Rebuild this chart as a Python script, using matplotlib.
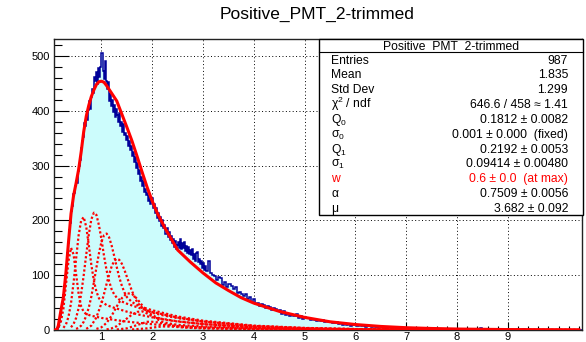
import numpy as np
import matplotlib
matplotlib.use('Agg')
import matplotlib.pyplot as plt
from matplotlib.patches import Rectangle
from matplotlib.lines import Line2D
from matplotlib.ticker import MultipleLocator

plt.rcParams['font.family'] = ['Liberation Sans', 'DejaVu Sans']
plt.rcParams['mathtext.fontset'] = 'custom'
plt.rcParams['mathtext.rm'] = 'Liberation Sans'
plt.rcParams['mathtext.it'] = 'Liberation Sans:italic'

title = "Positive_PMT_2-trimmed"

# ---------------- histogram ----------------
# fine bins (width 0.02) from 0.06 to 3.06
fine_start = 0.06
fine_width = 0.02
fine_counts = [
    0, 0, 0, 2, 6, 14, 26, 40, 50, 64, 80, 98, 118, 140, 158, 182, 196, 218, 226, 248,
    250, 262, 272, 268, 290, 300, 310, 332, 345, 352, 378, 372, 390, 384, 402, 418, 404, 425, 440, 432,
    462, 455, 470, 448, 478, 462, 480, 505, 472, 458, 490, 455, 440, 452, 418, 430, 408, 420, 398, 410,
    388, 404, 392, 380, 396, 372, 380, 362, 375, 355, 360, 346, 354, 336, 344, 328, 336, 318, 324, 306,
    315, 296, 304, 284, 292, 272, 280, 262, 272, 252, 258, 246, 250, 236, 244, 230, 236, 240, 222, 230,
    214, 222, 204, 214, 198, 206, 190, 200, 186, 192, 176, 186, 170, 178, 164, 172, 158, 166, 152, 162,
    148, 156, 160, 150, 166, 148, 158, 150, 160, 144, 154, 140, 152, 138, 146, 136, 148, 130, 138, 126,
    140, 142, 124, 130, 120, 126, 114, 122, 110, 116,
]
# coarse bins (width 0.04) from 3.06 to 7.06
coarse_start = 3.06
coarse_width = 0.04
coarse_counts = [
    108, 126, 104, 100, 98, 92, 96, 94, 82, 88, 78, 84, 80, 74, 78, 68, 70, 66, 62, 66,
    56, 60, 52, 56, 48, 50, 44, 48, 46, 40, 44, 42, 36, 40, 38, 34, 36, 30, 34, 28,
    30, 26, 28, 25, 30, 22, 26, 20, 24, 21, 22, 18, 20, 19, 17, 18, 16, 19, 15, 16,
    14, 15, 12, 13, 14, 11, 12, 10, 12, 9, 11, 8, 10, 9, 8, 10, 7, 8, 6, 7,
    8, 6, 7, 5, 6, 7, 5, 6, 4, 5, 6, 4, 5, 3, 4, 2, 0, 2, 0, 0,
]
hist_end = 10.46
tail_x = [7.14, 7.26, 7.70, 8.10, 8.50, 8.58, 8.98, 9.30]
tail_counts = [3, 2, 1, 2, 3, 2, 2, 1]

# ---------------- total fit ----------------
fit_x = [0.07, 0.12, 0.15, 0.20, 0.25, 0.30, 0.35, 0.40, 0.45, 0.50, 0.55, 0.60, 0.65, 0.70, 0.75,
         0.80, 0.85, 0.90, 0.95, 1.00, 1.05, 1.10, 1.15, 1.20, 1.30, 1.40, 1.50, 1.60, 1.70, 1.80,
         1.90, 2.00, 2.10, 2.25, 2.50, 2.75, 3.00, 3.25, 3.50, 3.75, 4.00, 4.50, 5.00, 5.50, 6.00,
         6.50, 7.00, 7.50, 8.00, 9.00, 10.40]
fit_y = [0, 0, 8, 35, 60, 105, 160, 212, 245, 268, 293, 325, 362, 390, 410,
         426, 438, 448, 453, 454, 452, 446, 439, 432, 418, 394, 370, 345, 317, 288,
         260, 235, 213, 186, 146, 124, 104, 86, 72, 59, 49, 34, 23, 15, 10,
         6.5, 4.2, 2.8, 1.8, 0.8, 0.3]

# ---------------- n-photoelectron components ----------------
c1_x = [0.10, 0.15, 0.20, 0.25, 0.30, 0.35, 0.40, 0.45, 0.50, 0.55, 0.60, 0.65, 0.70, 0.80, 1.00,
        1.25, 1.50, 2.00, 2.50, 3.00, 4.00, 5.00, 6.00, 8.00, 10.40]
c1_y = [1, 4, 15, 39, 82, 126, 150, 138, 102, 66, 43, 33, 29, 26, 22,
        18.5, 15.3, 10.5, 7.2, 5.0, 2.4, 1.1, 0.5, 0.1, 0.0]
c2_x = [0.25, 0.30, 0.35, 0.40, 0.45, 0.50, 0.55, 0.60, 0.65, 0.70, 0.75, 0.80, 0.85, 0.90, 0.95,
        1.00, 1.10, 1.25, 1.50, 1.75, 2.00, 2.50, 3.00, 4.00, 5.00, 6.00, 8.00, 10.40]
c2_y = [4, 10, 24, 49, 86, 130, 173, 200, 206, 188, 155, 119, 90, 70, 58,
        52, 45.5, 40.5, 33.5, 27.8, 23.1, 15.9, 10.9, 5.1, 2.4, 1.1, 0.25, 0.0]
c3_x = [0.40, 0.45, 0.50, 0.55, 0.60, 0.65, 0.70, 0.75, 0.80, 0.85, 0.90, 0.95, 1.00, 1.05, 1.10,
        1.15, 1.20, 1.25, 1.30, 1.40, 1.50, 1.75, 2.00, 2.50, 3.00, 4.00, 5.00, 6.00, 8.00, 10.40]
c3_y = [5, 11, 22, 40, 66, 100, 138, 174, 202, 214, 210, 191, 165, 135, 109,
        89, 74, 65, 59, 52, 48, 40, 33, 22.7, 15.6, 7.4, 3.5, 1.6, 0.4, 0.0]
c4_x = [0.50, 0.55, 0.60, 0.65, 0.70, 0.75, 0.80, 0.85, 0.90, 0.95, 1.00, 1.05, 1.10, 1.15, 1.20,
        1.25, 1.30, 1.35, 1.40, 1.45, 1.50, 1.60, 1.75, 2.00, 2.50, 3.00, 4.00, 5.00, 6.00, 8.00, 10.40]
c4_y = [2, 4, 8, 15, 26, 41, 61, 87, 114, 140, 161, 173, 176, 169, 154,
        135, 115, 96, 81, 69, 60, 51, 43, 36, 24.7, 17, 8, 3.8, 1.8, 0.4, 0.0]
c5_x = [0.70, 0.80, 0.90, 1.00, 1.05, 1.10, 1.15, 1.20, 1.25, 1.30, 1.35, 1.40, 1.45, 1.50, 1.60,
        1.70, 1.80, 1.90, 2.00, 2.25, 2.50, 3.00, 4.00, 5.00, 6.00, 8.00, 10.40]
c5_y = [2, 8, 23, 49, 66, 84, 101, 116, 126, 130, 128, 121, 110, 97, 71,
        51, 40, 35, 31.4, 26, 21.6, 14.8, 7, 3.3, 1.6, 0.35, 0.0]
c6_x = [0.90, 1.00, 1.10, 1.20, 1.30, 1.40, 1.50, 1.60, 1.70, 1.80, 1.90, 2.00, 2.10, 2.25, 2.50,
        3.00, 4.00, 5.00, 6.00, 8.00, 10.40]
c6_y = [2, 5, 13, 26, 43, 58, 67, 66, 57, 45, 34, 27, 22.5, 18.7, 15.5,
        10.7, 5.0, 2.4, 1.1, 0.25, 0.0]
c7_x = [1.10, 1.20, 1.30, 1.40, 1.50, 1.60, 1.70, 1.80, 1.90, 2.00, 2.10, 2.20, 2.30, 2.50, 3.00,
        4.00, 5.00, 6.00, 8.00, 10.40]
c7_y = [1, 3, 7, 14, 21, 28, 33, 34, 30, 25, 19.5, 15, 12.4, 9.4, 6.5,
        3.1, 1.4, 0.7, 0.15, 0.0]
c8_x = [1.30, 1.50, 1.70, 1.80, 1.90, 2.00, 2.10, 2.20, 2.40, 2.60, 3.00, 4.00, 5.00, 6.00, 8.00, 10.40]
c8_y = [1, 3, 9, 12, 15, 15, 14, 12, 8, 5.4, 3.6, 1.7, 0.8, 0.4, 0.08, 0.0]
c9_x = [1.60, 1.90, 2.10, 2.20, 2.40, 2.70, 3.00, 4.00, 5.00, 7.00, 10.40]
c9_y = [1, 3, 5.5, 6.5, 6, 4, 2.8, 1.4, 0.7, 0.15, 0.0]

# ---------------- stats box ----------------
stat_labels = ["Entries", "Mean", "Std Dev", r"$\mathregular{χ^2}$ / ndf", r"$\mathregular{Q_0}$",
               r"$\mathregular{σ_0}$", r"$\mathregular{Q_1}$", r"$\mathregular{σ_1}$", "w", "α", "μ"]
stat_values = ["987", "1.835", "1.299", "646.6 / 458 ≈ 1.41", "0.1812 ± 0.0082",
               "0.001 ± 0.000  (fixed)", "0.2192 ± 0.0053", "0.09414 ± 0.00480",
               "0.6 ± 0.0  (at max)", "0.7509 ± 0.0056", "3.682 ± 0.092"]
stat_colors = ["black"] * 8 + ["#ff0000"] + ["black"] * 2

x_ticks = [1, 2, 3, 4, 5, 6, 7, 8, 9]
y_ticks = [0, 100, 200, 300, 400, 500]

# ---------------- figure ----------------
W, H = 586, 342
fig = plt.figure(figsize=(W / 100, H / 100), dpi=100)
ax = fig.add_axes([54 / W, 1 - 330 / H, (582 - 54) / W, (330 - 39) / H])
ax.set_xlim(0.065, 10.46)
ax.set_ylim(0, 531)

fine_edges = fine_start + fine_width * np.arange(len(fine_counts) + 1)
n_coarse = int(round((hist_end - coarse_start) / coarse_width))
coarse_edges = coarse_start + coarse_width * np.arange(n_coarse + 1)
coarse_all = np.zeros(n_coarse)
coarse_all[:len(coarse_counts)] = coarse_counts
for tx, tc in zip(tail_x, tail_counts):
    coarse_all[int((tx - coarse_start) / coarse_width)] = tc
edges = np.concatenate([fine_edges, coarse_edges[1:]])
counts = np.concatenate([np.array(fine_counts, dtype=float), coarse_all])

ax.stairs(counts, edges, fill=True, color='#ccfcfc', zorder=2, linewidth=0)
ax.stairs(counts, edges, color='#000099', linewidth=1.1, zorder=3)

for cx, cy in [(c1_x, c1_y), (c2_x, c2_y), (c3_x, c3_y), (c4_x, c4_y), (c5_x, c5_y),
               (c6_x, c6_y), (c7_x, c7_y), (c8_x, c8_y), (c9_x, c9_y)]:
    ax.plot(cx, cy, color='#ff0000', lw=1.6, linestyle=(0, (1, 1)), zorder=4)

ax.plot(fit_x, fit_y, color='#ff0000', lw=2.2, zorder=5, solid_joinstyle='round')

ax.set_axisbelow(True)
ax.grid(True, which='major', color='black', linestyle=(0, (1, 2.5)), linewidth=0.7)

ax.set_xticks(x_ticks)
ax.set_xticklabels([str(v) for v in x_ticks])
ax.set_yticks(y_ticks)
ax.set_yticklabels([str(v) for v in y_ticks])
ax.xaxis.set_minor_locator(MultipleLocator(0.2))
ax.yaxis.set_minor_locator(MultipleLocator(20))
ax.tick_params(axis='x', which='major', direction='in', length=5.8, width=0.8, pad=1.2, labelsize=8)
ax.tick_params(axis='x', which='minor', direction='in', length=2.9, width=0.8)
ax.tick_params(axis='y', which='major', direction='in', length=10.8, width=0.8, pad=3, labelsize=8)
ax.tick_params(axis='y', which='minor', direction='in', length=5.4, width=0.8)
for s in ax.spines.values():
    s.set_linewidth(1.0)
    s.set_color('#222222')

fig.text(317.5 / W, 1 - 14.5 / H, title, ha='center', va='center', fontsize=12.5)

# stats box
bx0, bx1, by0, by1 = 319, 583, 39, 215
fig.patches.append(Rectangle((bx0 / W, 1 - by1 / H), (bx1 - bx0) / W, (by1 - by0) / H,
                             transform=fig.transFigure, facecolor='white', edgecolor='black',
                             linewidth=1.0, zorder=10))
fig.lines.append(Line2D([bx0 / W, bx1 / W], [1 - 52 / H, 1 - 52 / H], transform=fig.transFigure,
                        color='black', linewidth=0.8, zorder=11))
fig.text((bx0 + bx1) / 2 / W, 1 - 46 / H, title, ha='center', va='center', fontsize=8.7, zorder=12)
row_h = (by1 - 52) / len(stat_labels)
for i, (lab, val, col) in enumerate(zip(stat_labels, stat_values, stat_colors)):
    yc = 52 + row_h * (i + 0.5) + 4.2
    fig.text(331 / W, 1 - yc / H, lab, ha='left', va='baseline', fontsize=8.7, color=col, zorder=12)
    fig.text(568 / W, 1 - yc / H, val, ha='right', va='baseline', fontsize=8.7, color=col, zorder=12)

fig.savefig('out.png', dpi=100)
